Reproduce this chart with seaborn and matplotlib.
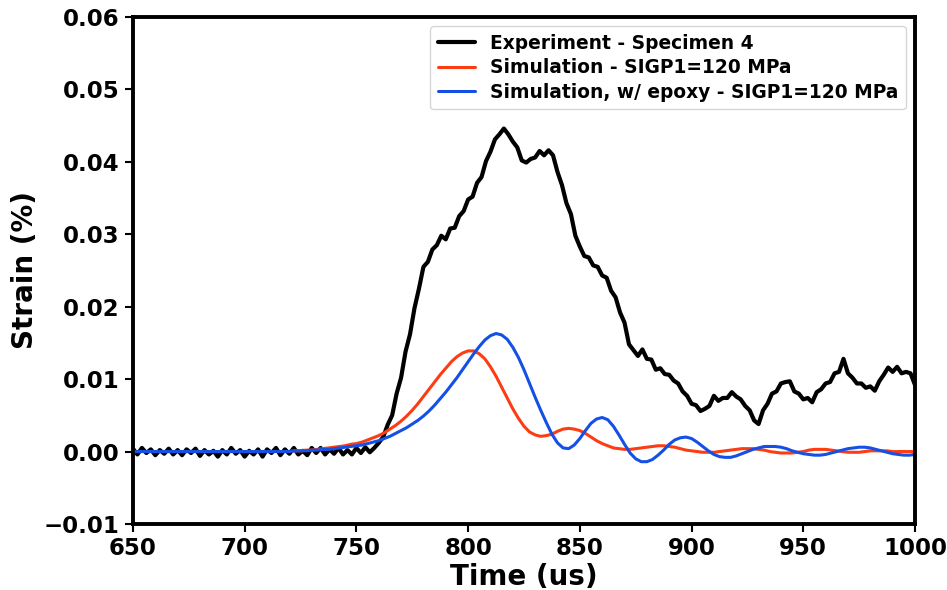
import numpy as np
import pandas as pd
import matplotlib
matplotlib.use("Agg")
import matplotlib.pyplot as plt
import seaborn as sns

# Experiment - Specimen 4, sampled every 2 us from 650 to 1000 us
exp_time = np.arange(650, 1001, 2)
exp_strain = [
    # 650 - 758
    0.0004, -0.0004, 0.0005, -0.0002, 0.0003, -0.0005, 0.0002, -0.0003, 0.0004, -0.0004,
    0.0002, -0.0005, 0.0003, -0.0002, 0.0004, -0.0006, 0.0002, -0.0004, 0.0001, -0.0007,
    0.0002, -0.0004, 0.0005, -0.0003, 0.0002, -0.0007, 0.0001, -0.0004, 0.0003, -0.0007,
    0.0003, -0.0002, 0.0005, -0.0005, 0.0003, -0.0003, 0.0005, -0.0004, 0.0001, -0.0005,
    0.0005, -0.0002, 0.0005, -0.0004, 0.0003, -0.0003, 0.0005, -0.0004, 0.0002, -0.0004,
    0.0005, -0.0002, 0.0006, -0.0001, 0.0005,
    # 760 - 818
    0.0012, 0.0020, 0.0037, 0.0050, 0.0080, 0.0102, 0.0138, 0.0162, 0.0198, 0.0225,
    0.0255, 0.0262, 0.0279, 0.0285, 0.0298, 0.0293, 0.0308, 0.0309, 0.0325, 0.0332,
    0.0348, 0.0352, 0.0371, 0.0379, 0.0401, 0.0414, 0.0431, 0.0438, 0.0446, 0.0438,
    # 820 - 1000
    0.0428, 0.0420, 0.0402, 0.0399, 0.0404, 0.0406, 0.0415, 0.0409, 0.0416, 0.0409,
    0.0386, 0.0368, 0.0343, 0.0328, 0.0298, 0.0283, 0.0270, 0.0268, 0.0257, 0.0255,
    0.0243, 0.0240, 0.0222, 0.0213, 0.0192, 0.0178, 0.0148, 0.0140, 0.0132, 0.0141,
    0.0128, 0.0127, 0.0113, 0.0115, 0.0107, 0.0106, 0.0098, 0.0094, 0.0083, 0.0077,
    0.0066, 0.0064, 0.0056, 0.0059, 0.0063, 0.0077, 0.0070, 0.0074, 0.0074, 0.0082,
    0.0076, 0.0072, 0.0063, 0.0057, 0.0043, 0.0038, 0.0057, 0.0066, 0.0080, 0.0083,
    0.0094, 0.0096, 0.0097, 0.0083, 0.0080, 0.0072, 0.0074, 0.0068, 0.0082, 0.0086,
    0.0094, 0.0096, 0.0108, 0.0110, 0.0128, 0.0108, 0.0102, 0.0094, 0.0094, 0.0088,
    0.0090, 0.0084, 0.0097, 0.0106, 0.0116, 0.0110, 0.0117, 0.0108, 0.0110, 0.0108,
    0.0092,
]

# Simulations, sampled every 2.5 us from 650 to 1000 us
sim_time = np.arange(650, 1000.1, 2.5)
sim_strain = [
    0.0, 0.0, 0.0, 0.0, 0.0, 0.0, 0.0, 0.0, 0.0, 0.0,
    0.0, 0.0, 0.0, 0.0, 0.0, 0.0, 0.0, 0.0, 0.0, 0.0,
    0.0, 0.0, 0.0, 0.0, 0.0, 0.0, 0.0, 0.0, 0.0,
    0.0001, 0.0001, 0.0002, 0.0002, 0.0003, 0.0004,
    0.0005, 0.0006, 0.0007, 0.0008, 0.0010, 0.0011, 0.0013, 0.0016, 0.0019, 0.0022,
    0.0026, 0.0031, 0.0036, 0.0042, 0.0049, 0.0057, 0.0066, 0.0076, 0.0086, 0.0096,
    0.0106, 0.0115, 0.0124, 0.0131, 0.0136, 0.0139, 0.0139, 0.0135, 0.0128, 0.0117,
    0.0104, 0.0089, 0.0074, 0.0059, 0.0046, 0.0035, 0.0027, 0.0023, 0.0021, 0.0022,
    0.0024, 0.0028, 0.0031, 0.0032, 0.0031, 0.0029, 0.0025, 0.0020, 0.0015, 0.0011,
    0.0008, 0.0005, 0.0004, 0.0003, 0.0003, 0.0004, 0.0005, 0.0006, 0.0007, 0.0008,
    0.0008, 0.0007, 0.0006, 0.0004, 0.0002, 0.0001, 0.0, -0.0001, -0.0001, -0.0001,
    0.0, 0.0001, 0.0002, 0.0003, 0.0004, 0.0004, 0.0004, 0.0003, 0.0002, 0.0,
    -0.0001, -0.0002, -0.0002, -0.0002, -0.0001, 0.0, 0.0002, 0.0003, 0.0003, 0.0003,
    0.0002, 0.0001, 0.0, -0.0001, -0.0001, -0.0001, 0.0, 0.0001, 0.0001, 0.0001,
    0.0001, 0.0, 0.0, 0.0, 0.0, 0.0,
]
epoxy_strain = [
    0.0, 0.0, 0.0, 0.0, 0.0, 0.0, 0.0, 0.0, 0.0, 0.0,
    0.0, 0.0, 0.0, 0.0, 0.0, 0.0, 0.0, 0.0, 0.0, 0.0,
    0.0, 0.0, 0.0, 0.0, 0.0, 0.0, 0.0, 0.0, 0.0,
    0.0001, 0.0001, 0.0001, 0.0002, 0.0002, 0.0003,
    0.0003, 0.0004, 0.0005, 0.0006, 0.0007, 0.0008, 0.0009, 0.0011, 0.0013, 0.0015,
    0.0018, 0.0021, 0.0025, 0.0029, 0.0033, 0.0038, 0.0043, 0.0049, 0.0056, 0.0064,
    0.0073, 0.0082, 0.0092, 0.0102, 0.0113, 0.0124, 0.0135, 0.0145, 0.0154, 0.0160,
    0.0163, 0.0161, 0.0155, 0.0144, 0.0130, 0.0113, 0.0094, 0.0075, 0.0057, 0.0040,
    0.0024, 0.0012, 0.0005, 0.0004, 0.0009, 0.0018, 0.0029, 0.0039, 0.0045, 0.0047,
    0.0044, 0.0035, 0.0023, 0.0010, -0.0002, -0.0010, -0.0014, -0.0014, -0.0011, -0.0005,
    0.0002, 0.0010, 0.0016, 0.0019, 0.0020, 0.0018, 0.0013, 0.0007, 0.0001, -0.0004,
    -0.0007, -0.0008, -0.0008, -0.0006, -0.0003, 0.0, 0.0003, 0.0005, 0.0007, 0.0007,
    0.0007, 0.0006, 0.0004, 0.0001, -0.0001, -0.0003, -0.0004, -0.0005, -0.0005, -0.0004,
    -0.0002, 0.0, 0.0002, 0.0004, 0.0005, 0.0006, 0.0006, 0.0005, 0.0003, 0.0001,
    -0.0001, -0.0003, -0.0004, -0.0005, -0.0005, -0.0004,
]

labels = [
    "Experiment - Specimen 4",
    "Simulation - SIGP1=120 MPa",
    "Simulation, w/ epoxy - SIGP1=120 MPa",
]
colors = ["black", "#fc3d14", "#1450e6"]
widths = [3.0, 2.2, 2.2]

df = pd.concat([
    pd.DataFrame({"time": exp_time, "strain": exp_strain, "series": labels[0]}),
    pd.DataFrame({"time": sim_time, "strain": sim_strain, "series": labels[1]}),
    pd.DataFrame({"time": sim_time, "strain": epoxy_strain, "series": labels[2]}),
], ignore_index=True)

sns.set_style("ticks")
plt.rcParams["font.family"] = ["DejaVu Sans"]
plt.rcParams["font.weight"] = "bold"
plt.rcParams["text.color"] = "black"
plt.rcParams["axes.labelcolor"] = "black"
plt.rcParams["xtick.color"] = "black"
plt.rcParams["ytick.color"] = "black"

fig = plt.figure(figsize=(9.47, 5.9), dpi=100)
ax = fig.add_axes([0.1404, 0.1119, 0.8258, 0.8593])

for label, color, lw in zip(labels, colors, widths):
    sns.lineplot(
        data=df[df["series"] == label],
        x="time",
        y="strain",
        color=color,
        linewidth=lw,
        label=label,
        ax=ax,
        estimator=None,
    )

ax.set_xlim(650, 1000)
ax.set_ylim(-0.01, 0.06)
ax.set_xticks(np.arange(650, 1001, 50))
ax.set_yticks([-0.01, 0.0, 0.01, 0.02, 0.03, 0.04, 0.05, 0.06])
ax.set_xlabel("Time (us)", fontsize=20, fontweight="bold", labelpad=2)
ax.set_ylabel("Strain (%)", fontsize=20, fontweight="bold")
ax.yaxis.set_label_coords(-0.120, 0.5)
ax.tick_params(axis="both", labelsize=16.5, width=1.5, length=6, colors="black")
for t in ax.get_xticklabels() + ax.get_yticklabels():
    t.set_fontweight("bold")
for s in ax.spines.values():
    s.set_linewidth(2.8)
    s.set_color("black")

leg = ax.legend(loc="upper right", prop={"weight": "bold", "size": 13.4},
                handlelength=2, borderpad=0.4, labelspacing=0.3,
                bbox_to_anchor=(1.0, 1.0))

fig.savefig("out.png", dpi=100)
